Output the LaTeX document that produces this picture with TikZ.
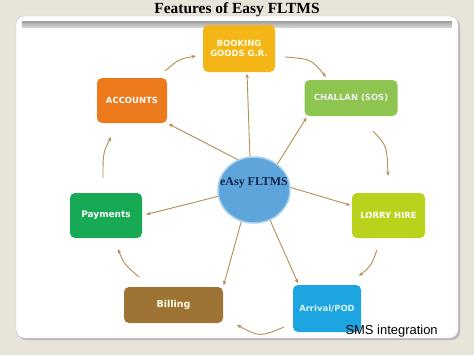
\documentclass[tikz,border=0pt]{standalone}
\usepackage{fontspec}
\setmainfont{Liberation Serif}
\newfontfamily\boxfont{DejaVu Sans}
\newfontfamily\smsfont{Liberation Sans}
\usetikzlibrary{arrows.meta,shapes.geometric,calc}
\definecolor{bgbeige}{HTML}{E9E4DA}
\definecolor{cbook}{HTML}{F4B616}
\definecolor{cchal}{HTML}{8DC550}
\definecolor{cacct}{HTML}{EC7A1C}
\definecolor{cpay}{HTML}{18A955}
\definecolor{clorry}{HTML}{BBD21C}
\definecolor{cbill}{HTML}{9E7434}
\definecolor{carr}{HTML}{1CA5E0}
\definecolor{chub}{HTML}{5DA5DA}
\definecolor{chubrim}{HTML}{A8D0EE}
\definecolor{clink}{HTML}{B58E52}
\definecolor{chubtext}{HTML}{14244A}
\tikzset{
  featbox/.style={rounded corners=5bp, inner sep=0pt, align=center, text=white,
    font=\boxfont\bfseries\fontsize{8.5}{10.5}\selectfont},
  link/.style={draw=clink, line width=0.9bp, -{Stealth[length=4.5bp,width=3.5bp]}},
  spoke/.style={link, shorten >=1.5bp},
}
\begin{document}
\begin{tikzpicture}[x=1bp,y=-1bp]
\useasboundingbox (0,0) rectangle (474,355);
\fill[bgbeige] (0,0) rectangle (474,355);
% panel
\fill[gray!55, rounded corners=8bp] (18,18) rectangle (460,340);
\draw[gray!45, fill=white, rounded corners=8bp] (16,16) rectangle (458,338);
\shade[top color=gray!75, bottom color=gray!35] (22,21) rectangle (452,27);
% title
\node[font=\bfseries\fontsize{15.5}{18}\selectfont] (title) at (237,10) {Features of Easy FLTMS};
% hub
\node[ellipse, fill=chub, draw=chubrim, line width=1.5bp, minimum width=72bp, minimum height=66bp] (hub) at (254,190) {};
\node[font=\bfseries\fontsize{12}{14}\selectfont, text=chubtext] (hubtext) at (254,183) {eAsy FLTMS};
% boxes
\node[featbox, fill=cbook, minimum width=72bp, minimum height=47bp, text=white!92!yellow] (booking) at (239,48.5) {BOOKING\\GOODS G.R.};
\node[featbox, fill=cchal, minimum width=93bp, minimum height=36bp, text=white!90!gray] (challan) at (351,98) {CHALLAN (SOS)};
\node[featbox, fill=cacct, minimum width=70bp, minimum height=45bp] (accounts) at (132,100.5) {ACCOUNTS};
\node[featbox, fill=cpay, minimum width=72bp, minimum height=45bp, font=\boxfont\bfseries\fontsize{9}{11}\selectfont] (payments) at (106,215.5) {Payments};
\node[featbox, fill=clorry, minimum width=73bp, minimum height=45bp] (lorry) at (388.5,215.5) {LORRY HIRE};
\node[featbox, fill=cbill, minimum width=99bp, minimum height=36bp, font=\boxfont\bfseries\fontsize{9.5}{11}\selectfont, text=white!90!yellow] (billing) at (173.5,305) {Billing};
\node[featbox, fill=carr, minimum width=68bp, minimum height=47bp, text=white!85!cyan] (arrival) at (327,308.5) {Arrival/POD};
\node[font=\smsfont\fontsize{13}{15}\selectfont, anchor=west] (sms) at (342,331) {SMS integration};
% spokes
\draw[spoke] (hub.97) -- ($(booking.south)+(8,0)$);
\draw[spoke] (hub.48) -- ($(challan.south west)+(3,0)$);
\draw[spoke] (hub.118) -- (accounts.south east);
\draw[spoke, shorten >=4bp] (hub.190) -- (payments.east);
\draw[spoke] (hub.4) -- (lorry.165);
\draw[spoke] (hub.-112) -- (billing.north east);
\draw[spoke] (hub.-62) -- (arrival.140);
% outer cycle
\coordinate (o1s) at (285,57);  \coordinate (o1e) at (326,77);
\coordinate (o2s) at (373,131); \coordinate (o2e) at (388,176);
\coordinate (o3s) at (377,250); \coordinate (o3e) at (359,276);
\coordinate (o4s) at (284,327); \coordinate (o4e) at (237,325);
\coordinate (o5s) at (139,277); \coordinate (o5e) at (118,249);
\coordinate (o6s) at (103,178); \coordinate (o6e) at (111,137);
\coordinate (o7s) at (165,71);  \coordinate (o7e) at (196,56);
\draw[link] (o1s) .. controls (311,59) .. (o1e);
\draw[link] (o2s) .. controls (387,146) .. (o2e);
\draw[link] (o3s) .. controls (371,266) .. (o3e);
\draw[link] (o4s) .. controls (260,337) .. (o4e);
\draw[link] (o5s) .. controls (124,264) .. (o5e);
\draw[link] (o6s) .. controls (103,153) .. (o6e);
\draw[link] (o7s) .. controls (179,59) .. (o7e);
\end{tikzpicture}
\end{document}
